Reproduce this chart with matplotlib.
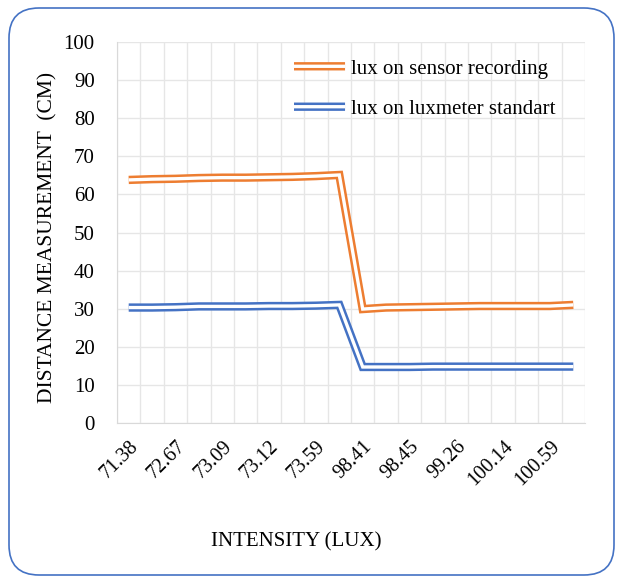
import matplotlib
matplotlib.use("Agg")
import matplotlib.pyplot as plt
import matplotlib.patheffects as pe
from matplotlib.patches import FancyBboxPatch

# category positions (20 readings), only every other label is printed
x_labels = ["71.38", "72.67", "73.09", "73.12", "73.59",
            "98.41", "98.45", "99.26", "100.14", "100.59"]
sensor = [63.8, 64.0, 64.1, 64.3, 64.4, 64.4, 64.5, 64.6, 64.8, 65.1,
          29.9, 30.3, 30.4, 30.5, 30.6, 30.7, 30.7, 30.7, 30.7, 31.0]
luxmeter = [30.3, 30.3, 30.4, 30.6, 30.6, 30.6, 30.7, 30.7, 30.8, 31.0,
            14.7, 14.7, 14.7, 14.8, 14.8, 14.8, 14.8, 14.8, 14.8, 14.8]
series_names = ["lux on sensor recording", "lux on luxmeter standart"]

ORANGE = "#ED7D31"
BLUE = "#4472C4"
OUTER_LW = 6.0
INNER_LW = 2.4

plt.rcParams["font.family"] = ["Liberation Serif", "DejaVu Serif"]

fig = plt.figure(figsize=(6.18, 5.77), dpi=100)
ax = fig.add_axes([117 / 618, 154 / 577, 468 / 618, 381 / 577])

# rounded blue frame around the whole chart
frame = FancyBboxPatch(
    (0.09, 0.02), 6.05, 5.67,
    boxstyle="round,pad=0,rounding_size=0.3",
    transform=fig.dpi_scale_trans,
    facecolor="none", edgecolor=BLUE, linewidth=1.2,
)
fig.patches.append(frame)

xs = list(range(len(sensor)))
for values, color, name in [(sensor, ORANGE, series_names[0]),
                            (luxmeter, BLUE, series_names[1])]:
    # double ("compound") line: coloured stroke with a white core
    ax.plot(xs, values, color="white", lw=INNER_LW, solid_joinstyle="miter",
            solid_capstyle="butt", zorder=3, label=name, snap=False,
            path_effects=[pe.Stroke(linewidth=OUTER_LW, foreground=color,
                                    capstyle="butt", joinstyle="miter"),
                          pe.Normal()])

ax.set_xlim(-0.5, len(sensor) - 0.5)
ax.set_ylim(0, 100)
ax.set_yticks(range(0, 101, 10))
ax.set_xticks(range(0, len(sensor), 2))
ax.set_xticklabels(x_labels, rotation=45, ha="right", va="top",
                   rotation_mode="anchor", fontsize=14.5)
ax.set_xticks([i - 0.5 for i in range(len(sensor) + 1)], minor=True)
ax.tick_params(axis="x", which="both", length=0, pad=10)
ax.tick_params(axis="y", length=0, pad=16, labelsize=15)
ax.grid(True, axis="y", color="#e6e6e6", lw=1.0, zorder=0)
ax.grid(True, axis="x", which="minor", color="#e6e6e6", lw=1.0, zorder=0)
for side in ("top", "right"):
    ax.spines[side].set_visible(False)
for side in ("left", "bottom"):
    ax.spines[side].set_color("#d9d9d9")

fig.text(48 / 618, 1 - 237 / 577, "DISTANCE MEASUREMENT  (CM)", rotation=90,
         ha="center", va="center", fontsize=15.5)
fig.text(296 / 618, 1 - 542 / 577, "INTENSITY (LUX)", ha="center",
         va="center", fontsize=15)

leg = ax.legend(loc="upper left", bbox_to_anchor=(294 / 618, 1 - 59 / 577),
                bbox_transform=fig.transFigure, borderaxespad=0, borderpad=0,
                frameon=False, fontsize=15, handlelength=2.45,
                handletextpad=0.3, labelspacing=1.0)
for line in leg.get_lines():
    line.set_snap(False)

fig.savefig("out.png", dpi=100)
